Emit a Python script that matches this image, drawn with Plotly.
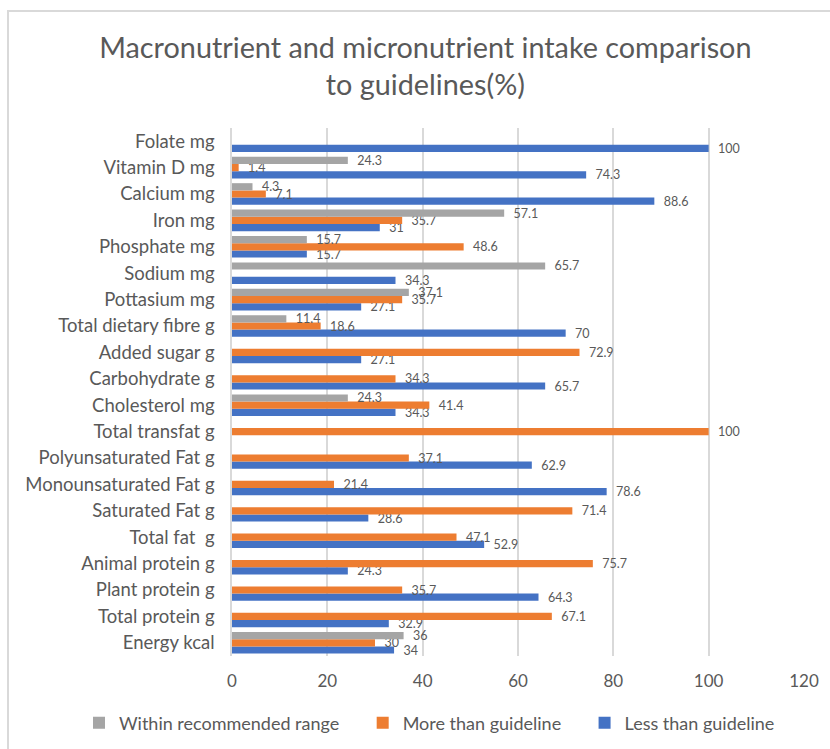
import plotly.graph_objects as go

categories = ["Energy kcal", "Total protein g", "Plant protein g", "Animal protein g",
              "Total fat  g", "Saturated Fat g", "Monounsaturated Fat g",
              "Polyunsaturated Fat g", "Total transfat g", "Cholesterol mg",
              "Carbohydrate g", "Added sugar g", "Total dietary fibre g",
              "Pottasium mg", "Sodium mg", "Phosphate mg", "Iron mg",
              "Calcium mg", "Vitamin D mg", "Folate mg"]

less_than = [34, 32.9, 64.3, 24.3, 52.9, 28.6, 78.6, 62.9, None, 34.3,
             65.7, 27.1, 70, 27.1, 34.3, 15.7, 31, 88.6, 74.3, 100]
more_than = [30, 67.1, 35.7, 75.7, 47.1, 71.4, 21.4, 37.1, 100, 41.4,
             34.3, 72.9, 18.6, 35.7, None, 48.6, 35.7, 7.1, 1.4, None]
within = [36, None, None, None, None, None, None, None, None, 24.3,
          None, None, 11.4, 37.1, 65.7, 15.7, 57.1, 4.3, 24.3, None]

x_ticks = [0, 20, 40, 60, 80, 100, 120]

FONT = "Lato"
TXT = "#595959"
PAD = "\u00a0" * 4

L, R, T, B = 232, 26, 128, 93
W, H = 830, 749
PW, PH = W - L - R, H - T - B


def lbl(vals):
    return [("" if v is None else "\u00a0\u00a0" + f"{v:g}") for v in vals]


fig = go.Figure()
for name, vals, col in [("Less than guideline", less_than, "#4472C4"),
                        ("More than guideline" + PAD, more_than, "#ED7D31"),
                        ("Within recommended range" + PAD, within, "#A5A5A5")]:
    fig.add_trace(go.Bar(
        y=categories, x=vals, name=name, orientation="h",
        marker=dict(color=col, line=dict(width=0)),
        text=lbl(vals), textposition="outside", cliponaxis=False,
        constraintext="none",
        textfont=dict(family=FONT, size=12.5, color=TXT),
    ))

fig.update_layout(
    width=W, height=H,
    barmode="group", bargap=0.18, bargroupgap=0,
    paper_bgcolor="white", plot_bgcolor="white",
    margin=dict(l=L, r=R, t=T, b=B, autoexpand=False),
    title=dict(text="Macronutrient and micronutrient intake comparison<br>to guidelines(%)",
               x=0.5125, xanchor="center", yref="container", y=0.923, yanchor="top",
               font=dict(family=FONT, size=28.8, color=TXT)),
    font=dict(family=FONT, color=TXT),
    showlegend=True,
    legend=dict(orientation="h", xref="paper", x=(79 - L) / PW, xanchor="left",
                yref="paper", y=-(723 - (T + PH)) / PH, yanchor="middle",
                traceorder="reversed", font=dict(family=FONT, size=18, color=TXT),
                itemwidth=30),
    xaxis=dict(range=[0, 120], tickvals=x_ticks, showgrid=True, gridcolor="#D9D9D9",
               gridwidth=1.5, zeroline=False, showline=False,
               tickfont=dict(family=FONT, size=17, color=TXT), ticks="",
               ticklabelstandoff=13),
    yaxis=dict(categoryorder="array", categoryarray=categories, showgrid=False,
               showline=True, linecolor="#D9D9D9", linewidth=1.5,
               tickfont=dict(family=FONT, size=18.5, color=TXT), ticks="",
               ticklabelstandoff=12),
    shapes=[dict(type="rect", xref="paper", yref="paper",
                 x0=(8 - L) / PW, x1=(860 - L) / PW,
                 y0=-(770 - (T + PH)) / PH, y1=1 + (T - 11) / PH,
                 line=dict(color="#D9D9D9", width=2),
                 fillcolor="rgba(0,0,0,0)", layer="below")],
)

fig.write_html("out.html", config={"displayModeBar": False},
               post_script="document.body.style.margin='0';")
